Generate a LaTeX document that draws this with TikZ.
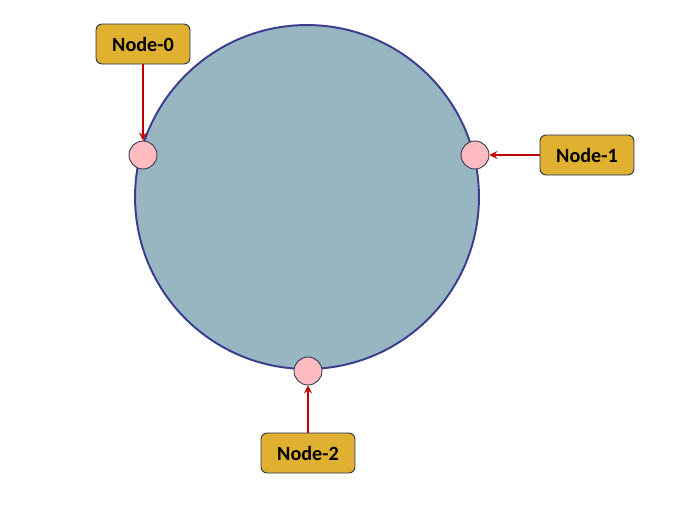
\documentclass[tikz,border=0pt]{standalone}
\usepackage{fontspec}
\setmainfont{Carlito}
\usetikzlibrary{positioning}
\definecolor{ringfill}{HTML}{98B5C2}
\definecolor{ringline}{HTML}{3A3C8E}
\definecolor{pointfill}{HTML}{FFBBBF}
\definecolor{pointline}{HTML}{33364F}
\definecolor{boxfill}{HTML}{E0B030}
\definecolor{boxline}{HTML}{1F2D4A}
\definecolor{arrowred}{HTML}{C00000}
\tikzset{
    ring/.style={circle, draw=ringline, fill=ringfill, line width=1.1pt, minimum size=6.88cm, inner sep=0pt},
    point/.style={circle, draw=pointline, fill=pointfill, line width=0.5pt, minimum size=0.56cm, inner sep=0pt},
    nodebox/.style={rectangle, rounded corners=3.5pt, draw=boxline, fill=boxfill, line width=0.5pt,
        minimum width=1.88cm, minimum height=0.8cm, font=\fontsize{11.5}{13}\selectfont\bfseries},
    link/.style={->, draw=arrowred, line width=1pt}
}
\begin{document}
\begin{tikzpicture}[x=0.02cm, y=-0.02cm, >=stealth]
    \useasboundingbox (0,0) rectangle (687,505);

    % --- PIERSCIEN ---
    \node[ring] (ring) at (307,197) {};

    % punkty na pierscieniu
    \node[point] (p0) at (143,155) {};
    \node[point] (p1) at (475,155) {};
    \node[point] (p2) at (308,371) {};

    % --- WEZLY ---
    \node[nodebox] (n0) at (143,44) {Node-0};
    \node[nodebox] (n1) at (587,155) {Node-1};
    \node[nodebox] (n2) at (308,453) {Node-2};

    % --- STRZALKI ---
    \draw[link] (n0) -- (p0);
    \draw[link] (n1) -- (p1);
    \draw[link] (n2) -- (p2);

\end{tikzpicture}
\end{document}
